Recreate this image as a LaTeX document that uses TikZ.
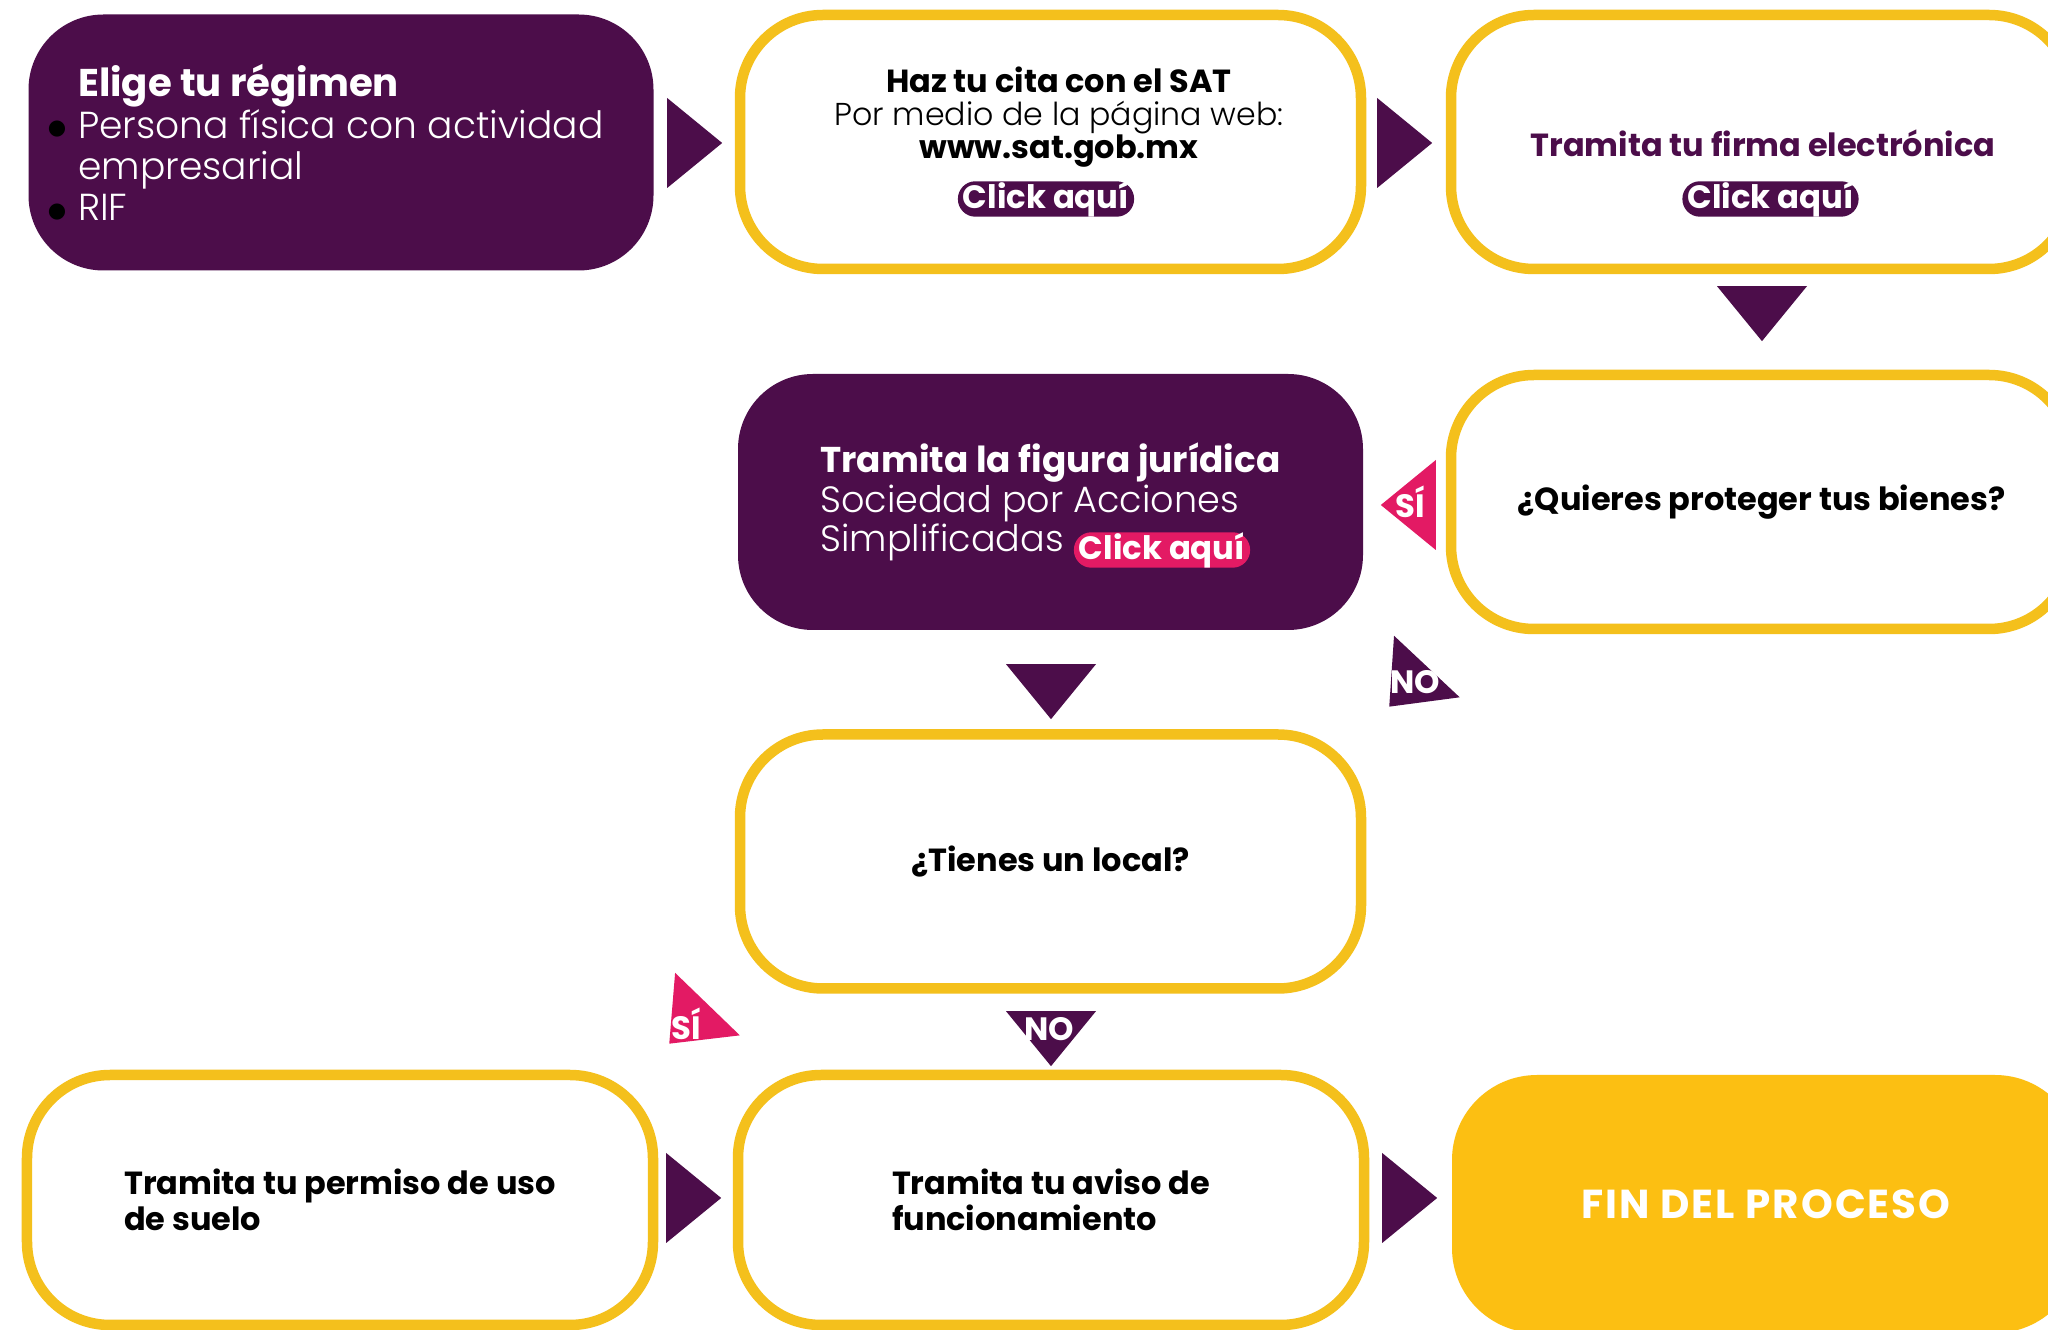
\documentclass[tikz,border=0pt]{standalone}
\usepackage{fontspec}
\setmainfont{Poppins}[UprightFont=* Light, BoldFont=* Bold]
\newfontfamily\dejavu{DejaVu Sans}
\usetikzlibrary{shapes.geometric}

\definecolor{morado}{HTML}{4C0D4A}
\definecolor{amarillo}{HTML}{F4C01C}
\definecolor{oro}{HTML}{FCBF12}
\definecolor{rosa}{HTML}{E31A64}

\newcommand{\negrita}{\fontsize{9.1}{10.2}\selectfont\bfseries}
\newcommand{\punto}{\llap{\textcolor{black}{\raisebox{0.9pt}{\fontsize{6}{0}\dejavu ●}}\hspace{1.2mm}}}

\begin{document}
\begin{tikzpicture}[
    caja/.style={draw=amarillo, line width=1.05mm, fill=white, rounded corners=8.3mm,
      minimum width=62.1mm, minimum height=25.4mm, inner sep=0pt, text=black},
    cajam/.style={fill=morado, rounded corners=7.5mm, minimum width=62.5mm,
      minimum height=25.6mm, inner sep=0pt, text=white},
    boton/.style={fill=#1, text=white, rounded corners=1.75mm, minimum height=3.5mm,
      inner xsep=0.5mm, inner ysep=0pt, font=\fontsize{9.2}{9.2}\selectfont\bfseries},
    flecha/.style={isosceles triangle, isosceles triangle stretches, fill=#1,
      minimum width=9mm, minimum height=5.5mm, inner sep=0pt, anchor=apex},
    flecha/.default=morado,
    sino/.style={text=white, font=\fontsize{9.2}{9.2}\selectfont\bfseries, inner sep=0pt},
  ]
    \useasboundingbox (0,0) rectangle (20.48,13.30);
    \clip (0,0) rectangle (20.48,13.30);
    \fill[white] (0,0) rectangle (20.48,13.30);

    % fila de arriba
    \node[cajam, align=left, font=\fontsize{10.7}{11.7}\selectfont] (elige) at (3.41,11.875)
      {{\fontsize{11}{11.7}\selectfont\bfseries Elige tu régimen}\\
       \punto Persona física con actividad\\
       empresarial\\
       \punto RIF};
    \node[caja] (cita) at (10.505,11.88) {};
    \node[align=center, inner sep=0pt, font=\fontsize{9}{9.5}\selectfont] (cita-t) at (10.59,12.13)
      {{\negrita Haz tu cita con el SAT}\\
       Por medio de la página web:\\
       {\negrita www.sat.gob.mx}};
    \node[boton=morado] (cita-click) at (10.46,11.31) {Click aquí};
    \node[caja] (firma) at (17.615,11.88) {};
    \node[text=morado, font=\negrita, inner sep=0pt] (firma-t) at (17.63,11.87)
      {Tramita tu firma electrónica};
    \node[boton=morado] (firma-click) at (17.705,11.31) {Click aquí};

    % fila de en medio
    \node[cajam, align=left, font=\fontsize{10.4}{11.2}\selectfont] (sas) at (10.505,8.28)
      {{\fontsize{10.2}{11.2}\selectfont\bfseries Tramita la figura jurídica}\\
       Sociedad por Acciones\\
       Simplificadas};
    \node[boton=rosa] (sas-click) at (11.62,7.80) {Click aquí};
    \node[caja, font=\negrita] (bienes) at (17.615,8.28) {¿Quieres proteger tus bienes?};
    \node[caja, font=\negrita] (local) at (10.505,4.685) {¿Tienes un local?};

    % fila de abajo
    \node[caja, align=left, font=\negrita, minimum width=62.6mm, minimum height=25mm] (permiso) at (3.40,1.30)
      {Tramita tu permiso de uso\\ de suelo};
    \node[caja, align=left, font=\negrita, minimum width=62.6mm, minimum height=25mm] (aviso) at (10.51,1.30)
      {Tramita tu aviso de\\ funcionamiento};
    \node[caja, draw=none, fill=oro, text=white, rounded corners=8.5mm,
      font=\fontsize{11.5}{11.5}\selectfont\bfseries\addfontfeature{LetterSpace=5},
      minimum width=62.8mm, minimum height=25.8mm] (fin) at (17.66,1.26) {FIN DEL PROCESO};

    % flechas
    \node[flecha] (f1) at (7.24,11.87) {};
    \node[flecha] (f2) at (14.34,11.87) {};
    \node[flecha, rotate=-90] (f3) at (17.62,9.87) {};
    \node[flecha=rosa, rotate=180] (si1) at (13.79,8.25) {};
    \node[flecha, rotate=226.85] (no1) at (13.88,6.22) {};
    \node[flecha, rotate=-90] (f4) at (10.51,6.09) {};
    \node[flecha=rosa, rotate=226] (si2) at (6.68,2.85) {};
    \node[flecha, rotate=-90] (no2) at (10.51,2.62) {};
    \node[flecha] (f5) at (7.23,1.32) {};
    \node[flecha] (f6) at (14.39,1.32) {};

    \node[sino] (si1-t) at (14.10,8.28) {SÍ};
    \node[sino] (no1-t) at (14.15,6.48) {NO};
    \node[sino] (si2-t) at (6.86,3.06) {SÍ};
    \node[sino] (no2-t) at (10.49,3.01) {NO};
\end{tikzpicture}
\end{document}
